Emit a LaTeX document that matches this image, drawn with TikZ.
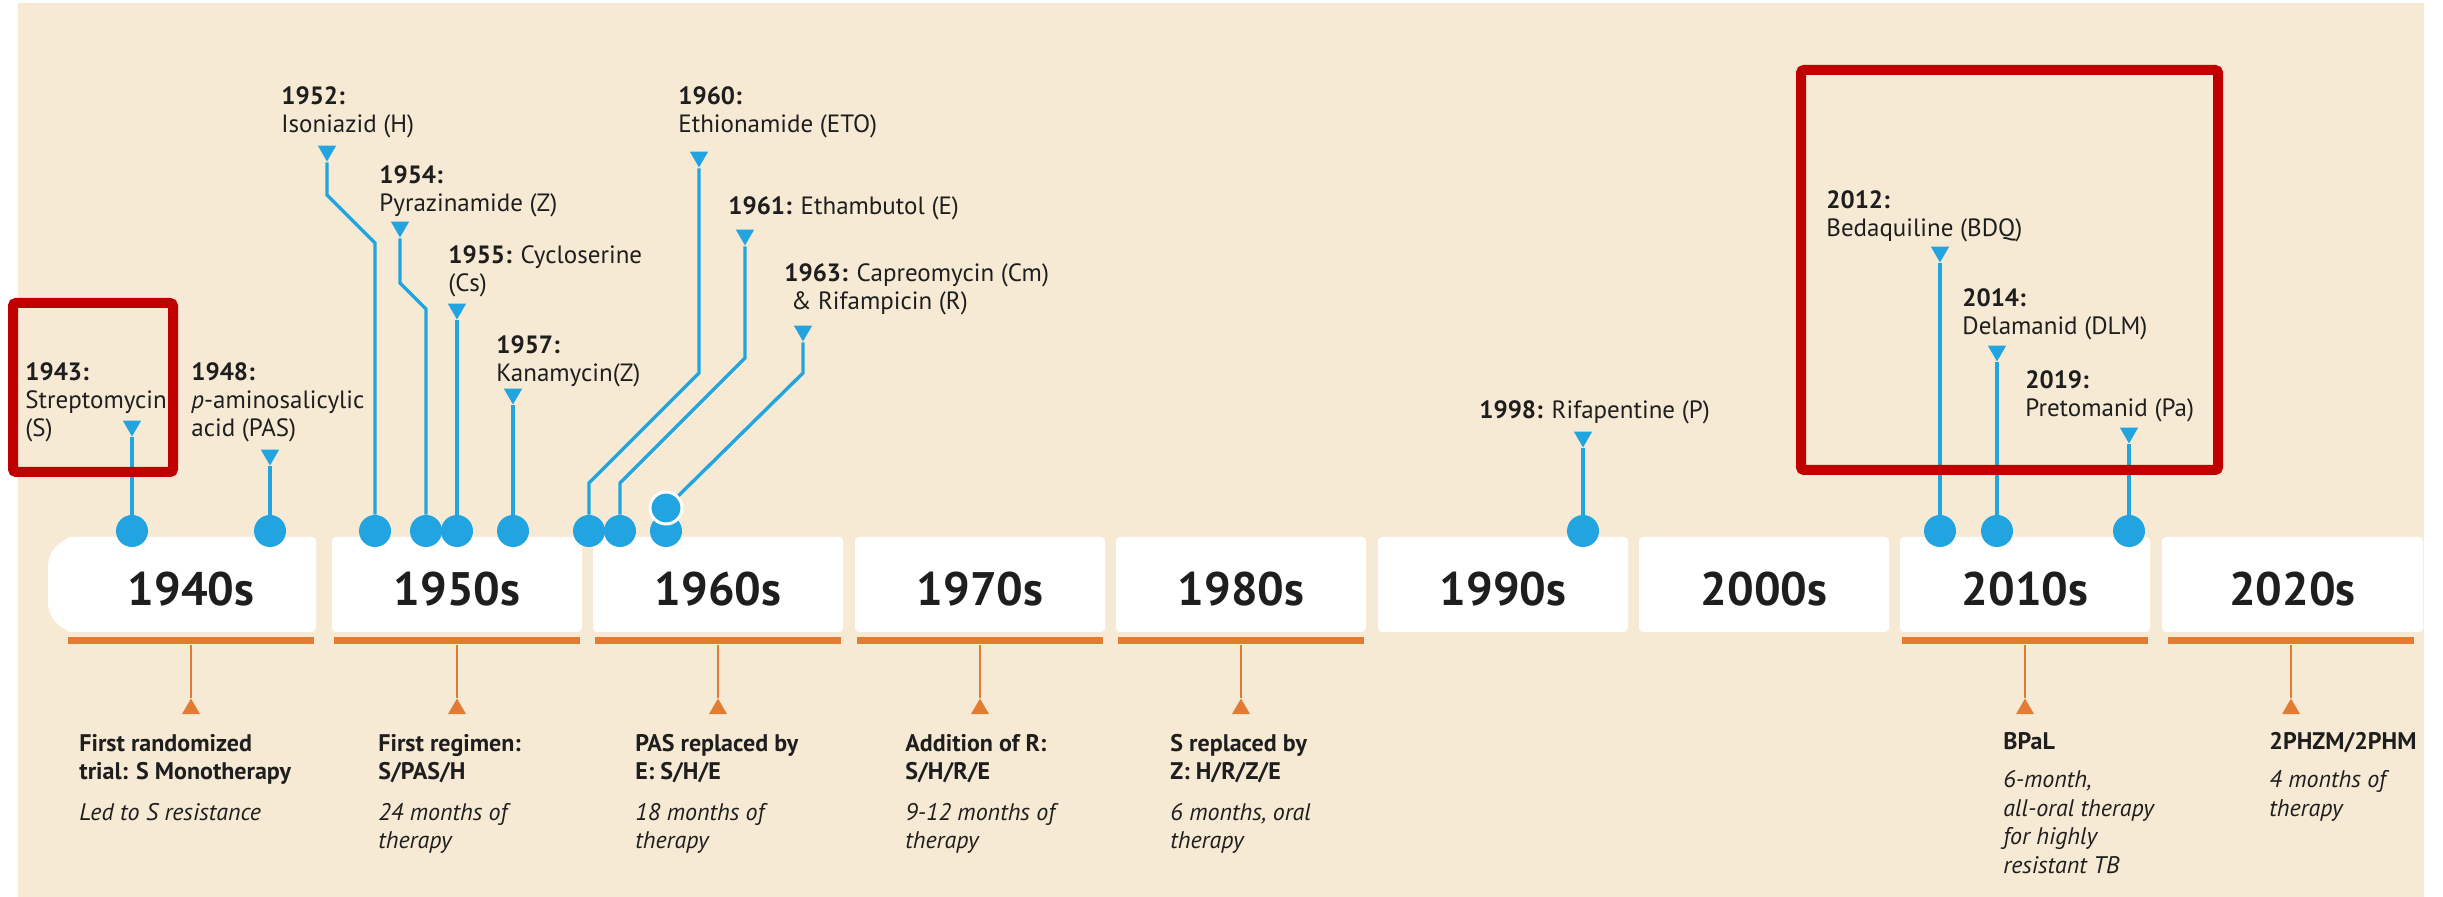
\documentclass[tikz,border=0pt]{standalone}
\usepackage{fontspec}
\setmainfont{PT Sans}
\usetikzlibrary{shapes.geometric}
\definecolor{cream}{RGB}{247,234,213}
\definecolor{tbblue}{RGB}{34,164,224}
\definecolor{tborange}{RGB}{226,124,50}
\definecolor{redbox}{RGB}{192,0,0}
\definecolor{txt}{RGB}{30,30,30}
\begin{document}
\begin{tikzpicture}[x=0.5pt,y=-0.5pt,
  dot/.style={circle,fill=tbblue,inner sep=0pt,minimum size=16pt},
  btri/.style={regular polygon,regular polygon sides=3,shape border rotate=180,fill=tbblue,inner sep=0pt,minimum size=10.5pt},
  otri/.style={regular polygon,regular polygon sides=3,fill=tborange,inner sep=0pt,minimum size=10.5pt},
  stem/.style={draw=tbblue,line width=1.7pt},
  ostem/.style={draw=tborange,line width=1.4pt},
  decade/.style={fill=white,rounded corners=2pt,minimum width=125pt,minimum height=47.5pt,inner sep=0pt,font=\bfseries\fontsize{23.5}{28}\selectfont,text=txt,text height=21pt,text depth=0pt},
  bar/.style={fill=tborange,minimum width=123pt,minimum height=3.5pt,inner sep=0pt},
  toplab/.style={anchor=north west,inner sep=0pt,align=left,font=\fontsize{12.5}{14}\selectfont,text=txt},
  lowlab/.style={anchor=north west,inner sep=0pt,align=left,font=\fontsize{12}{14.2}\selectfont,text=txt},
  redframe/.style={draw=redbox,line width=5pt,rounded corners=1.5pt},
]
\useasboundingbox (0,0) rectangle (2443,897);
\fill[white] (0,0) rectangle (2443,897);
\fill[cream] (18,3) rectangle (2424,897);

% decade boxes
\fill[white,rounded corners=15pt] (48,537) rectangle (160,632);
\node[decade] (y40) at (191,584.5) {1940s};
\node[decade] (y50) at (457,584.5) {1950s};
\node[decade] (y60) at (718,584.5) {1960s};
\node[decade] (y70) at (980,584.5) {1970s};
\node[decade] (y80) at (1241,584.5) {1980s};
\node[decade] (y90) at (1503,584.5) {1990s};
\node[decade] (y00) at (1764,584.5) {2000s};
\node[decade] (y10) at (2025,584.5) {2010s};
\node[decade,minimum width=130.5pt] (y20) at (2292.5,584.5) {2020s};

% orange bars, stems and markers
\foreach \n/\x in {40/191,50/457,60/718,70/980,80/1241,10/2025,20/2291}{
  \node[bar] (b\n) at (\x,641) {};
  \node[otri] (o\n) at (\x,709) {};
  \draw[ostem] (b\n) -- (o\n);
}

% lower texts
\node[lowlab] (n40) at (79,734) {\textbf{First randomized}\\\textbf{trial: S Monotherapy}\\[6pt]\textit{Led to S resistance}};
\node[lowlab] (n50) at (378,734) {\textbf{First regimen:}\\\textbf{S/PAS/H}\\[6pt]\textit{24 months of}\\\textit{therapy}};
\node[lowlab] (n60) at (635,734) {\textbf{PAS replaced by}\\\textbf{E: S/H/E}\\[6pt]\textit{18 months of}\\\textit{therapy}};
\node[lowlab] (n70) at (905,734) {\textbf{Addition of R:}\\\textbf{S/H/R/E}\\[6pt]\textit{9-12 months of}\\\textit{therapy}};
\node[lowlab] (n80) at (1170,734) {\textbf{S replaced by}\\\textbf{Z: H/R/Z/E}\\[6pt]\textit{6 months, oral}\\\textit{therapy}};
\node[lowlab] (n10) at (2003,732) {\textbf{BPaL}\\[5pt]\textit{6-month,}\\\textit{all-oral therapy}\\\textit{for highly}\\\textit{resistant TB}};
\node[lowlab] (n20) at (2269,732) {\textbf{2PHZM/2PHM}\\[5pt]\textit{4 months of}\\\textit{therapy}};

% upper labels
\node[toplab] (l43) at (25,362) {\textbf{1943:}\\Streptomycin\\(S)};
\node[toplab] (l48) at (191,362) {\textbf{1948:}\\\textit{p}-aminosalicylic\\acid (PAS)};
\node[toplab] (l52) at (281,86) {\textbf{1952:}\\Isoniazid (H)};
\node[toplab] (l54) at (379,165) {\textbf{1954:}\\Pyrazinamide (Z)};
\node[toplab] (l55) at (448,245) {\textbf{1955:} Cycloserine\\(Cs)};
\node[toplab] (l57) at (496,335) {\textbf{1957:}\\Kanamycin(Z)};
\node[toplab] (l60) at (678,86) {\textbf{1960:}\\Ethionamide (ETO)};
\node[toplab] (l61) at (728,196) {\textbf{1961:} Ethambutol (E)};
\node[toplab] (l63) at (784,263) {\textbf{1963:} Capreomycin (Cm)\\\ \& Rifampicin (R)};
\node[toplab] (l98) at (1479,400) {\textbf{1998:} Rifapentine (P)};
\node[toplab] (l12) at (1826,190) {\textbf{2012:}\\Bedaquiline (BDQ)};
\node[toplab] (l14) at (1962,288) {\textbf{2014:}\\Delamanid (DLM)};
\node[toplab] (l19) at (2025,370) {\textbf{2019:}\\Pretomanid (Pa)};

% blue markers
\node[btri] (t43) at (132,426) {};
\node[btri] (t48) at (270,455) {};
\node[btri] (t52) at (327,151) {};
\node[btri] (t54) at (400,227) {};
\node[btri] (t55) at (457,309) {};
\node[btri] (t57) at (513,394) {};
\node[btri] (t60) at (699,157) {};
\node[btri] (t61) at (745,235) {};
\node[btri] (t63) at (803,331) {};
\node[btri] (t98) at (1583,437) {};
\node[btri] (t12) at (1940,252) {};
\node[btri] (t14) at (1997,351) {};
\node[btri] (t19) at (2129,433) {};

% dots
\node[dot] (d43) at (132,531) {};
\node[dot] (d48) at (270,531) {};
\node[dot] (d52) at (375,531) {};
\node[dot] (d54) at (426,531) {};
\node[dot] (d55) at (457,531) {};
\node[dot] (d57) at (513,531) {};
\node[dot] (d60) at (589,531) {};
\node[dot] (d61) at (620,531) {};
\node[dot] (d63a) at (666,531) {};
\node[dot,draw=white,line width=1.5pt] (d63b) at (666,508) {};
\node[dot] (d98) at (1583,531) {};
\node[dot] (d12) at (1940,531) {};
\node[dot] (d14) at (1997,531) {};
\node[dot] (d19) at (2129,531) {};

% stems
\draw[stem] (t43) -- (d43);
\draw[stem] (t48) -- (d48);
\draw[stem] (t52) -- (327,195) -- (375,243) -- (d52);
\draw[stem] (t54) -- (400,283) -- (426,309) -- (d54);
\draw[stem] (t55) -- (d55);
\draw[stem] (t57) -- (d57);
\draw[stem] (t60) -- (699,373) -- (589,483) -- (d60);
\draw[stem] (t61) -- (745,358) -- (620,483) -- (d61);
\draw[stem] (t63) -- (803,373) -- (d63b);
\draw[stem] (t98) -- (d98);
\draw[stem] (t12) -- (d12);
\draw[stem] (t14) -- (d14);
\draw[stem] (t19) -- (d19);

% red highlight frames
\draw[redframe] (13,303) rectangle (173,472);
\draw[redframe] (1801,70) rectangle (2218,470);
\end{tikzpicture}
\end{document}
